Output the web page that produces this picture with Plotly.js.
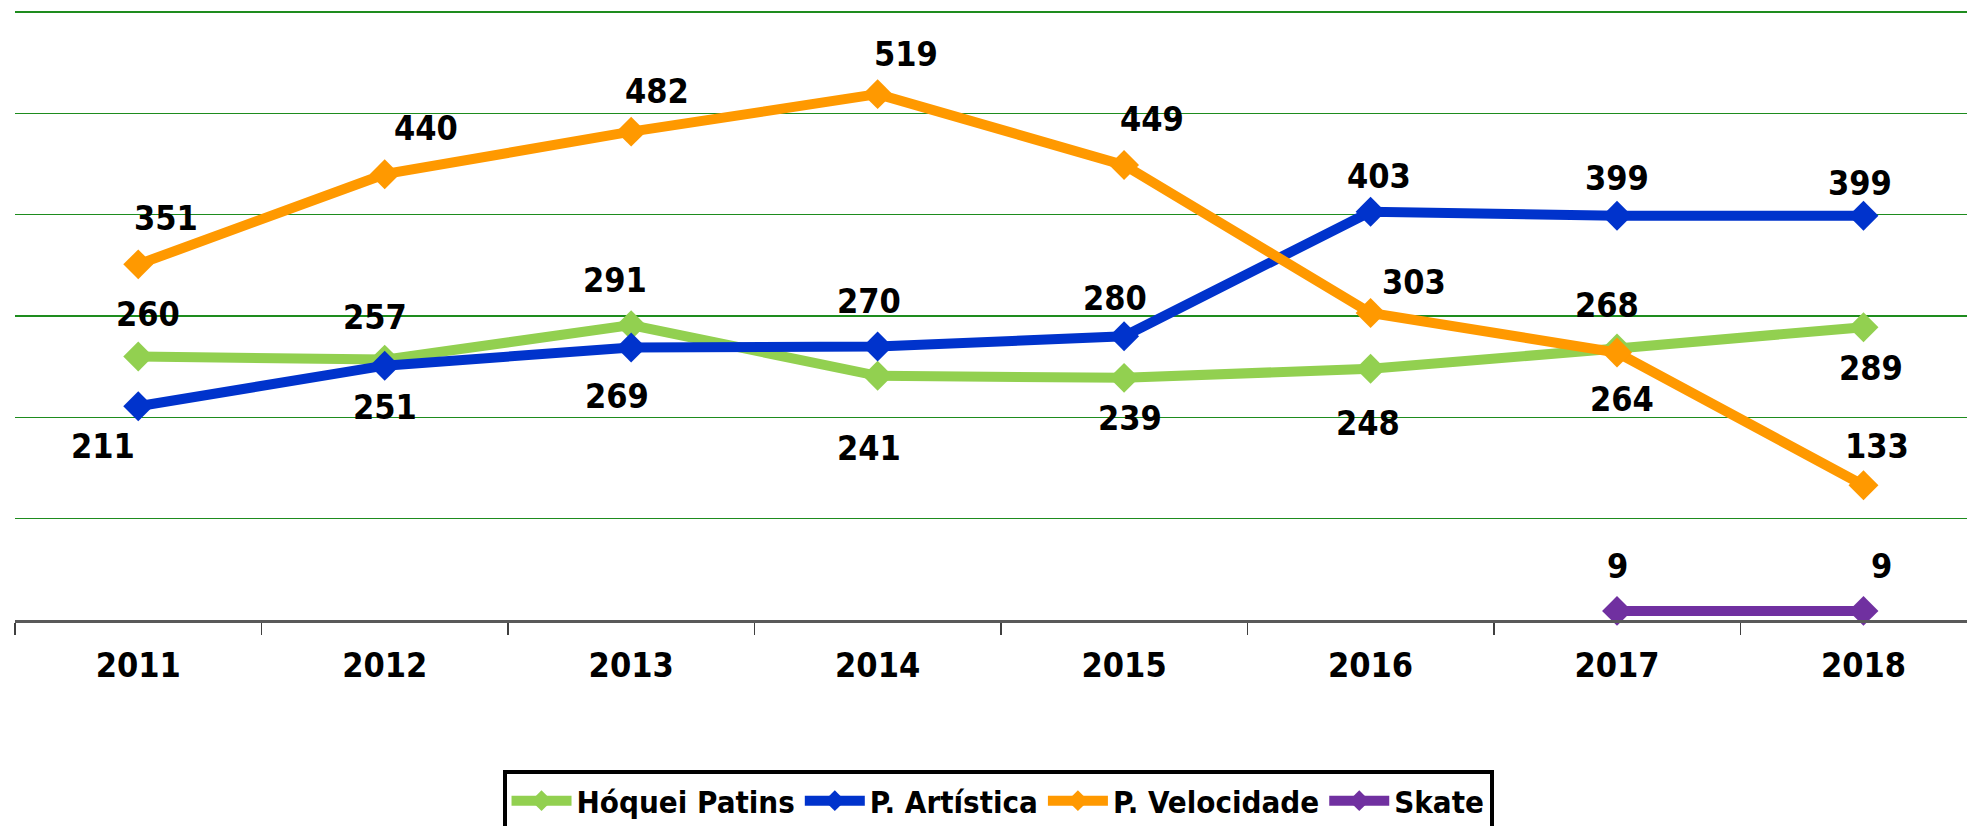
<!DOCTYPE html>
<html>
<head>
<meta charset="utf-8">
<script src="https://cdn.plot.ly/plotly-3.0.1.min.js"></script>
<style>
  html, body { margin: 0; padding: 0; overflow: hidden; background: #fff; }
  #chart { width: 1967px; height: 850px; }
</style>
</head>
<body>
<div id="chart"></div>
<script>
// ---- data ----
const years = ["2011", "2012", "2013", "2014", "2015", "2016", "2017", "2018"];
const hoquei = [260, 257, 291, 241, 239, 248, 268, 289];
const artistica = [211, 251, 269, 270, 280, 403, 399, 399];
const velocidade = [351, 440, 482, 519, 449, 303, 264, 133];
const skateYears = ["2017", "2018"];
const skate = [9, 9];
const seriesNames = ["Hóquei Patins", "P. Artística", "P. Velocidade", "Skate"];

// ---- styles / label offsets (pixels) ----
const colors = ["#92D050", "#0033CC", "#FF9900", "#7030A0"];
const offHoquei = [[10,-43],[-10,-43],[-16,-45],[-9,72],[6,40],[-3,54],[-10,-43],[8,41]];
const offArt = [[-35,40],[0,41],[-14,49],[-9,-45],[-9,-38],[8,-36],[0,-38],[-3,-33]];
const offVel = [[28,-46],[41,-46],[26,-41],[28,-40],[28,-46],[43,-31],[5,46],[14,-39]];
const offSkate = [[0,-45],[18,-45]];

const FONT = "'Liberation Sans Narrow', 'Arial Narrow', 'DejaVu Sans Condensed', sans-serif";

function trace(name, x, y, color) {
  return {
    type: 'scatter', mode: 'lines+markers', name: name, x: x, y: y,
    line: { color: color, width: 10 },
    marker: { symbol: 'diamond', size: 23, color: color },
    cliponaxis: false, hoverinfo: 'skip'
  };
}

const data = [
  trace(seriesNames[0], years, hoquei, colors[0]),
  trace(seriesNames[1], years, artistica, colors[1]),
  trace(seriesNames[2], years, velocidade, colors[2]),
  trace(seriesNames[3], skateYears, skate, colors[3])
];

const annotations = [];
function addLabels(x, y, offs) {
  for (let i = 0; i < y.length; i++) {
    annotations.push({
      x: years.indexOf(x[i]), y: y[i], xref: 'x', yref: 'y',
      text: '<b>' + y[i] + '</b>', showarrow: false,
      xshift: offs[i][0], yshift: -offs[i][1],
      font: { family: FONT, size: 34, color: '#000' }
    });
  }
}
addLabels(years, hoquei, offHoquei);
addLabels(years, artistica, offArt);
addLabels(years, velocidade, offVel);
addLabels(skateYears, skate, offSkate);

const layout = {
  width: 1967, height: 850,
  margin: { l: 15, r: 0, t: 6, b: 230 },
  paper_bgcolor: '#fff', plot_bgcolor: '#fff',
  showlegend: true,
  font: { family: FONT, color: '#000' },
  xaxis: {
    type: 'category', range: [-0.5, 7.42],
    tickson: 'boundaries', ticks: 'outside', ticklen: 12, tickwidth: 1.5, tickcolor: '#404040',
    showline: true, linecolor: '#595959', linewidth: 2.5,
    showgrid: false, zeroline: false,
    tickfont: { family: FONT, size: 34, color: '#000', weight: 'bold' },
    ticklabelstandoff: 14,
    fixedrange: true
  },
  yaxis: {
    range: [0, 606], dtick: 100, tick0: 0,
    showgrid: true, gridcolor: '#1E8C1E', gridwidth: 1.5,
    showticklabels: false, zeroline: false, showline: false, ticks: '',
    fixedrange: true
  },
  legend: {
    orientation: 'h', x: 0.5036, xanchor: 'center', y: -0.2443, yanchor: 'top',
    bordercolor: '#000', borderwidth: 4, bgcolor: '#fff',
    font: { family: FONT, size: 31, color: '#000', weight: 'bold' },
    itemwidth: 60, traceorder: 'normal'
  },
  annotations: annotations
};

Plotly.newPlot('chart', data, layout, { displayModeBar: false, staticPlot: true });
</script>
</body>
</html>
